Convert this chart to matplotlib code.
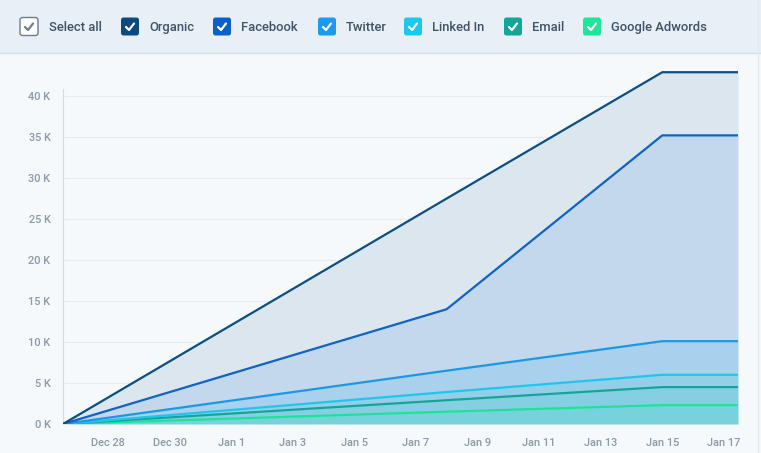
import matplotlib
matplotlib.use("Agg")
import matplotlib.pyplot as plt
import numpy as np
import pandas as pd
from matplotlib.patches import FancyBboxPatch, Rectangle

plt.rcParams['font.family'] = ['Roboto', 'DejaVu Sans']

# ---------------- data ----------------
dates = pd.to_datetime(["2023-12-26 13:00", "2024-01-08 00:00", "2024-01-15 00:00", "2024-01-17 11:00"])
series_names = ["Organic", "Facebook", "Twitter", "Linked In", "Email", "Google Adwords"]
# individual (stacked) contributions, in thousands
organic = [0, 13.5, 7.7, 7.7]
facebook = [0, 7.5, 25.1, 25.1]
twitter = [0, 2.6, 4.1, 4.1]
linkedin = [0, 1.0, 1.5, 1.5]
email = [0, 1.4, 2.2, 2.2]
google = [0, 1.5, 2.3, 2.3]

tick_dates = pd.to_datetime(["2023-12-28", "2023-12-30", "2024-01-01", "2024-01-03",
                             "2024-01-05", "2024-01-07", "2024-01-09", "2024-01-11",
                             "2024-01-13", "2024-01-15", "2024-01-17"])
tick_labels = ["Dec 28", "Dec 30", "Jan 1", "Jan 3", "Jan 5", "Jan 7", "Jan 9",
               "Jan 11", "Jan 13", "Jan 15", "Jan 17"]
y_ticks = [0, 5, 10, 15, 20, 25, 30, 35, 40]
y_labels = ["0 K", "5 K", "10 K", "15 K", "20 K", "25 K", "30 K", "35 K", "40 K"]

line_colors = ["#0b4f82", "#0e62c8", "#1a98e6", "#1ec6ee", "#14a598", "#1de39a"]
band_colors = ["#dbe6ee", "#c3d8ec", "#a9d0ed", "#93cfe8", "#86cfe3", "#78d2dc"]
box_colors = ["#0b4a7e", "#0a5fc8", "#1a9af0", "#1bc8ef", "#13a596", "#1de59a"]

W, H = 761, 453
fig = plt.figure(figsize=(W / 100, H / 100), dpi=100)
fig.patch.set_facecolor("#f5f9fc")

# overlay axes in pixel coordinates for header
ov = fig.add_axes([0, 0, 1, 1], zorder=0)
ov.set_xlim(0, W)
ov.set_ylim(H, 0)
ov.axis("off")
ov.add_patch(Rectangle((0, 0), W, 53, facecolor="#e9eff6", edgecolor="none"))
ov.plot([0, W], [53, 53], color="#d6dfe9", lw=1)
ov.plot([758, 758], [0, H], color="#e3e9f0", lw=1)

legend_items = [("Select all", None, 20, 49), ("Organic", box_colors[0], 121, 149),
                ("Facebook", box_colors[1], 213, 241), ("Twitter", box_colors[2], 318, 346),
                ("Linked In", box_colors[3], 404, 432), ("Email", box_colors[4], 504, 532),
                ("Google Adwords", box_colors[5], 583, 611)]
for label, col, bx, tx in legend_items:
    y0, s = 17.5, 18
    if col is None:
        ov.add_patch(FancyBboxPatch((bx, y0), s, s, boxstyle="round,pad=0,rounding_size=2.5",
                                    facecolor="white", edgecolor="#6b7d92", lw=1.0))
        cc = "#6b7d92"
    else:
        ov.add_patch(FancyBboxPatch((bx, y0), s, s, boxstyle="round,pad=0,rounding_size=2.5",
                                    facecolor=col, edgecolor="none"))
        cc = "white"
    ov.plot([bx + 5, bx + 8, bx + 13], [y0 + 9.5, y0 + 12.5, y0 + 6], color=cc, lw=1.6,
            solid_capstyle="round", solid_joinstyle="round")
    ov.text(tx, 27.5, label, fontsize=9.4, color="#3e5268", va="center", ha="left",
            fontweight="medium")

# main chart
left, right = 63 / W, 738 / W
bottom, top = (H - 424) / H, (H - 60) / H
ax = fig.add_axes([left, bottom, right - left, top - bottom], zorder=1)
ax.set_facecolor("none")
ymax = (424 - 60) / 8.2
ax.set_ylim(0, ymax)
ax.set_xlim(dates[0], dates[-1])

stack_order = [google, email, linkedin, twitter, facebook, organic]
cum = np.cumsum(np.array(stack_order, dtype=float), axis=0)
lower = np.zeros(len(dates))
for i in range(len(stack_order)):
    upper = cum[i]
    ax.fill_between(dates, lower, upper, color=band_colors[5 - i], lw=0, zorder=2)
    lower = upper
for i in range(len(stack_order)):
    ax.plot(dates, cum[i], color=line_colors[5 - i], lw=1.6, zorder=3 + i,
            solid_joinstyle="round")

for yt in y_ticks[1:]:
    ax.axhline(yt, color="#e4ebf2", lw=0.8, zorder=1)

for sp in ["top", "right", "bottom"]:
    ax.spines[sp].set_visible(False)
ax.spines["left"].set_color("#d3dbe4")
ax.spines["left"].set_linewidth(0.8)
ax.spines["left"].set_bounds(0, 40.9)

ax.set_yticks(y_ticks)
ax.set_yticklabels(y_labels)
ax.set_xticks(tick_dates)
ax.set_xticklabels(tick_labels)
ax.tick_params(axis="both", length=0, colors="#8c99a9", labelsize=7.9)
ax.tick_params(axis="y", pad=9)
ax.tick_params(axis="x", pad=10)
for t in ax.get_xticklabels() + ax.get_yticklabels():
    t.set_fontweight("medium")

fig.savefig("out.png", dpi=100, facecolor=fig.get_facecolor())
